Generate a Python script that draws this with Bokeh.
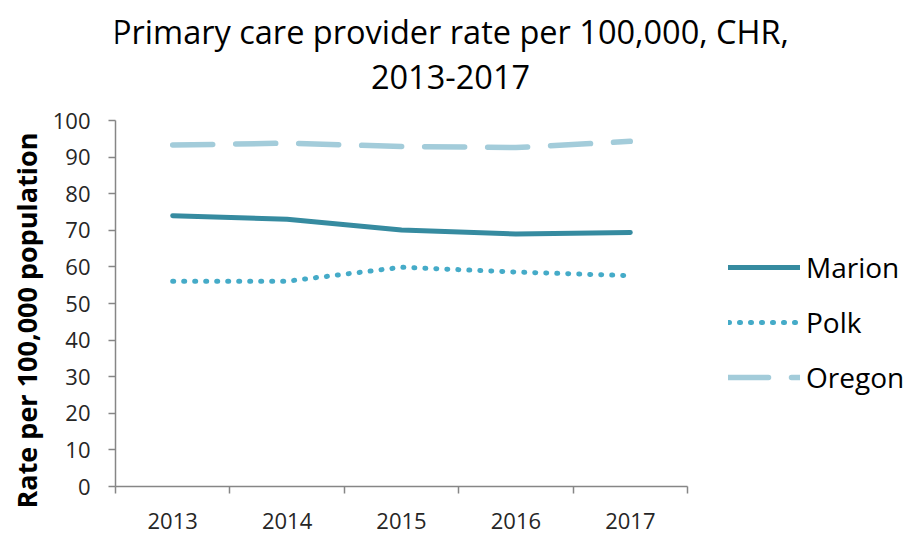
from bokeh.plotting import figure
from bokeh.models import (Range1d, FixedTicker, Legend, LegendItem, Label, Title)
from bokeh.embed import file_html
from bokeh.resources import INLINE

title_lines = ["Primary care provider rate per 100,000, CHR,", "2013-2017"]
y_title = "Rate per 100,000 population"
years = ["2013", "2014", "2015", "2016", "2017"]
marion = [74.0, 73.0, 70.1, 69.0, 69.4]
polk = [56.1, 56.1, 59.9, 58.6, 57.6]
oregon = [93.3, 93.8, 92.9, 92.6, 94.3]
y_ticks = [0, 10, 20, 30, 40, 50, 60, 70, 80, 90, 100]

FONT = "Open Sans"
TXT = "#262626"
AXIS = "#868686"

W, H = 907, 535
LEFT, BOTTOM, TOP = 115, H - 486, 2
n = len(years)
xs = [i + 0.5 for i in range(n)]
# frame spans plot area plus title/legend area; axes are bounded to the data area
x_end = n * (W - 2 - LEFT) / (687 - LEFT)
y_end = 100 * (486 - TOP) / (486 - 120)

p = figure(width=W, height=H, output_backend="svg", toolbar_location=None,
           x_range=Range1d(0, x_end), y_range=Range1d(0, y_end),
           min_border_left=LEFT, min_border_right=2, min_border_top=TOP,
           min_border_bottom=BOTTOM)
p.title = None
p.outline_line_color = None
p.xgrid.visible = False
p.ygrid.visible = False

# title (two centred lines), positioned in screen units relative to the frame
for txt, base in zip(title_lines, [31, 76]):
    p.add_layout(Label(x=450 - LEFT, y=486 - base, x_units="screen",
                       y_units="screen", text=txt, text_align="center",
                       text_baseline="alphabetic", text_font=FONT,
                       text_font_size="32.5px", text_color="#000000"))

r_m = p.line(xs, marion, line_color="#368BA0", line_width=5, line_cap="round",
             line_join="round")
r_p = p.line(xs, polk, line_color="#45ABC8", line_width=5, line_cap="round",
             line_dash="1 10", line_join="round")
r_o = p.line(xs, oregon, line_color="#A3CCDA", line_width=5.5, line_cap="round",
             line_dash="40 23", line_join="round")

# axes
xa = p.xaxis[0]
xa.bounds = (0, n)
xa.ticker = FixedTicker(ticks=xs, minor_ticks=list(range(n + 1)))
xa.major_label_overrides = {x: y for x, y in zip(xs, years)}
xa.major_tick_out = 0
xa.major_tick_in = 0
xa.minor_tick_out = 7
xa.minor_tick_in = 0
xa.minor_tick_line_color = AXIS
xa.minor_tick_line_width = 1.5
xa.axis_line_color = AXIS
xa.axis_line_width = 1.5
xa.major_label_text_font = FONT
xa.major_label_text_font_size = "22px"
xa.major_label_text_color = TXT
xa.major_label_standoff = 19

ya = p.yaxis[0]
ya.bounds = (0, 100)
ya.ticker = FixedTicker(ticks=y_ticks)
ya.major_tick_out = 7
ya.major_tick_in = 0
ya.minor_tick_out = 0
ya.minor_tick_in = 0
ya.major_tick_line_color = AXIS
ya.major_tick_line_width = 1.5
ya.axis_line_color = AXIS
ya.axis_line_width = 1.5
ya.major_label_text_font = FONT
ya.major_label_text_font_size = "22px"
ya.major_label_text_color = TXT
ya.major_label_standoff = 18

# vertical axis title, aligned to start just below the axis bottom
p.add_layout(Title(text=y_title, align="left", offset=-22,
                   vertical_align="middle", standoff=8, text_font=FONT,
                   text_font_size="27px", text_font_style="bold",
                   text_color="#000000"), "left")

legend = Legend(items=[LegendItem(label="Marion", renderers=[r_m]),
                       LegendItem(label="Polk", renderers=[r_p]),
                       LegendItem(label="Oregon", renderers=[r_o])],
                location=(613, 90), glyph_width=72, glyph_height=38,
                label_height=38, spacing=17, label_standoff=6,
                label_text_font=FONT, label_text_font_size="28px",
                label_text_color="#000000", padding=0, margin=0,
                border_line_alpha=0, background_fill_alpha=0)
p.add_layout(legend, "center")

open("out.html", "w").write(file_html(p, INLINE))
